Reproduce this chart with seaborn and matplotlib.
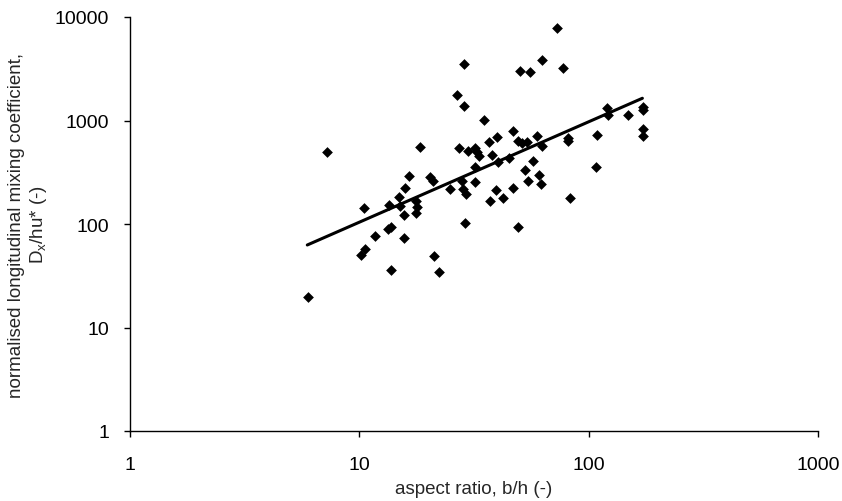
import matplotlib
matplotlib.use("Agg")
import matplotlib.pyplot as plt
import seaborn as sns
import pandas as pd
import numpy as np

# aspect ratio b/h (-)
aspect_ratio = [
    7.25, 18.4, 16.4, 20.3, 20.9, 15.8, 14.9, 10.5, 13.5, 15.0, 17.7, 17.8,
    17.6, 15.7, 13.4, 13.7, 11.7, 15.6, 10.6, 10.2, 21.2, 22.3, 13.7, 5.96,
    73.0, 28.7, 62.4, 50.2, 55.5, 77.6, 26.6, 28.7, 35.1, 120, 121, 149,
    172, 172, 172, 172, 46.9, 59.4, 49.4, 51.1, 53.7, 39.7, 36.7, 81.1,
    81.5, 109, 27.3, 29.7, 32.0, 32.5, 33.4, 37.8, 62.4, 40.4, 45.0, 57.4,
    32.0, 52.8, 61.0, 108, 28.0, 28.2, 29.2, 24.9, 32.0, 39.5, 37.2, 42.2,
    46.7, 54.3, 62.0, 83.0, 28.9, 49.2,
]
# normalised longitudinal mixing coefficient Dx/hu* (-)
mixing_coeff = [
    493, 555, 293, 285, 259, 223, 184, 142, 154, 148, 168, 145,
    127, 123, 89.5, 92.9, 76.1, 73.2, 57.4, 50.2, 48.7, 34.6, 36.2, 19.6,
    7778, 3515, 3868, 2988, 2961, 3194, 1764, 1372, 1011, 1330, 1130, 1130,
    1341, 1263, 828, 713, 787, 713, 638, 606, 616, 688, 616, 673,
    638, 724, 542, 504, 542, 493, 457, 467, 571, 400, 431, 403,
    353, 332, 299, 358, 262, 218, 195, 218, 253, 214, 168, 177,
    223, 259, 244, 178, 102, 93,
]
# trend line end points
trend_x = [5.93, 171.5]
trend_y = [62.7, 1640]

x_ticks = [1, 10, 100, 1000]
x_tick_labels = ["1", "10", "100", "1000"]
y_ticks = [1, 10, 100, 1000, 10000]
y_tick_labels = ["1", "10", "100", "1000", "10000"]

sns.set_style("ticks")
plt.rcParams["font.family"] = ["Liberation Sans", "DejaVu Sans"]
plt.rcParams["mathtext.fontset"] = "custom"
plt.rcParams["mathtext.rm"] = "Liberation Sans"
plt.rcParams["mathtext.it"] = "Liberation Sans"

df = pd.DataFrame({"b_h": aspect_ratio, "Dx": mixing_coeff})
trend = pd.DataFrame({"x": trend_x, "y": trend_y})

fig = plt.figure(figsize=(8.42, 5.02), dpi=100)
ax = fig.add_axes([130 / 842, 1 - 432 / 502, (818 - 130) / 842, (432 - 18) / 502])

sns.lineplot(data=trend, x="x", y="y", ax=ax, color="black", linewidth=2.2)
sns.scatterplot(data=df, x="b_h", y="Dx", ax=ax, marker="D", color="black",
                s=30, linewidth=0, zorder=3)

ax.set_xscale("log")
ax.set_yscale("log")
ax.set_xlim(1, 1000)
ax.set_ylim(1, 10000)
ax.set_xticks(x_ticks)
ax.set_xticklabels(x_tick_labels)
ax.set_yticks(y_ticks)
ax.set_yticklabels(y_tick_labels)
ax.minorticks_off()

for side in ["top", "right"]:
    ax.spines[side].set_visible(False)
for side in ["left", "bottom"]:
    ax.spines[side].set_color("black")
    ax.spines[side].set_linewidth(1.0)

ax.tick_params(axis="both", direction="out", length=4, width=1.0,
               colors="black", labelsize=14)
ax.tick_params(axis="x", pad=14)
ax.tick_params(axis="y", pad=11)

ax.set_xlabel("aspect ratio, b/h (-)", fontsize=13.5, labelpad=5)
ax.set_ylabel("normalised longitudinal mixing coefficient,\nD$_{\\rm x}$/hu* (-)",
              fontsize=13.5, labelpad=4, linespacing=1.2)

fig.savefig("out.png", dpi=100, facecolor="white")
